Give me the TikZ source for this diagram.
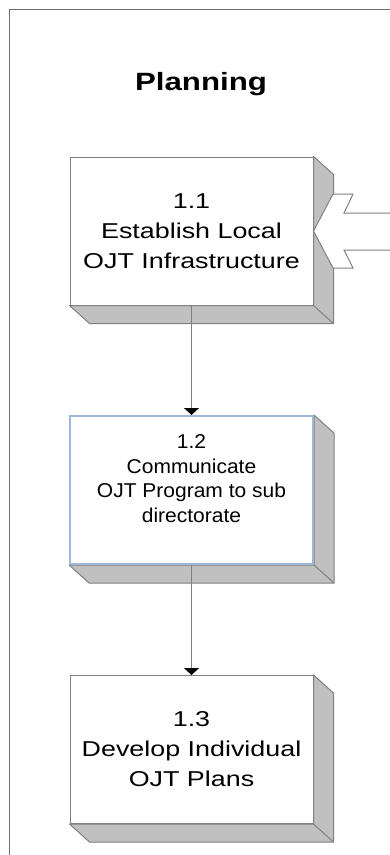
\documentclass[tikz,border=0pt]{standalone}
\usepackage{fontspec}
\setmainfont{Liberation Sans}
\newfontfamily\titlefont[FakeStretch=1.25]{Liberation Sans}
\newfontfamily\widefont[FakeStretch=1.25]{Liberation Sans}
\newfontfamily\narrowfont[FakeStretch=1.05]{Liberation Sans}
\usetikzlibrary{arrows.meta,backgrounds}
\definecolor{facegray}{HTML}{C0C0C0}
\definecolor{edgegray}{HTML}{808080}
\definecolor{framegray}{HTML}{6E6E6E}
\definecolor{selblue}{HTML}{9FB6DD}
\tikzset{
  front/.style={draw=edgegray,fill=white,line width=1pt,minimum width=243pt,minimum height=148pt,inner sep=0pt,align=center},
  widetext/.style={font=\widefont\fontsize{21.5}{30}\selectfont},
  narrowtext/.style={font=\narrowfont\fontsize{20}{24.5}\selectfont,align=center},
  face/.style={draw=edgegray,fill=facegray,line width=1pt,line join=round},
  flow/.style={draw=edgegray,line width=1pt,-{Triangle[width=15pt,length=7pt,color=black]}}
}
\begin{document}
\begin{tikzpicture}[x=1pt,y=-1pt]
\useasboundingbox (0,0) rectangle (390,855);
\draw[framegray,line width=1pt] (9,855) -- (9,9) -- (390,9);
\node[anchor=base,font=\titlefont\bfseries\fontsize{25}{30}\selectfont] (title) at (201,90) {Planning};
\node[front,widetext] (b1) at (191.5,231) {1.1\\Establish Local\\OJT Infrastructure};
\node[front,draw=selblue,line width=2pt] (b2) at (191.5,490) {};
\node[narrowtext] (t2) at ([yshift=11.5pt]b2.center) {1.2\\Communicate\\OJT Program to sub\\directorate};
\node[front,widetext] (b3) at (191.5,749.5) {1.3\\Develop Individual\\OJT Plans};
\begin{scope}[on background layer]
\foreach \b in {b1,b2,b3}{
  \draw[face] (\b.north east) -- ++(20,18) -- ([shift={(20,18)}]\b.south east)
    -- ([shift={(20,18)}]\b.south west) -- (\b.south west) -- (\b.south east) -- cycle;
  \draw[face] (\b.south east) -- ++(20,18);
}
\filldraw[fill=white,draw=edgegray,line width=1pt,line join=miter] (390,213) -- (344,213) -- (353,194) -- (333,194)
  -- (b1.east) -- (333,268) -- (353,268) -- (344,250) -- (390,250);
\end{scope}
\draw[flow] (b1.south) -- (b2.north);
\draw[flow] (b2.south) -- (b3.north);
\end{tikzpicture}
\end{document}
